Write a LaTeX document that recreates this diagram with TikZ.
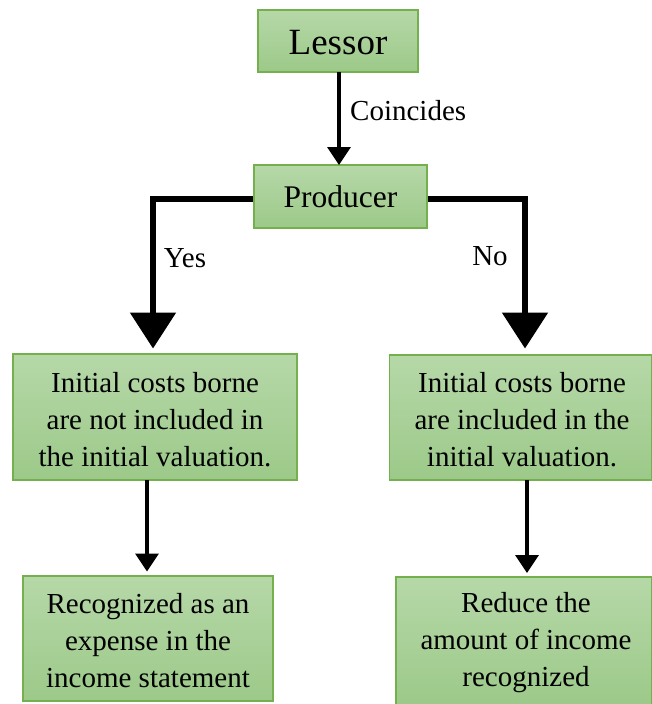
\documentclass[tikz,border=0pt]{standalone}
\usepackage{fontspec}
\setmainfont{Liberation Serif}
\usetikzlibrary{arrows.meta,calc}
\definecolor{boxtop}{RGB}{182,216,168}
\definecolor{boxbot}{RGB}{156,201,137}
\definecolor{boxline}{RGB}{116,176,78}
\tikzset{
  gbox/.style={draw=boxline, line width=1.2pt, top color=boxtop, bottom color=boxbot,
    align=center, inner sep=0pt, anchor=center},
  bodytext/.style={font=\fontsize{29}{37}\selectfont, align=center, inner sep=0pt},
  thinarrow/.style={line width=3.6pt, -{Triangle[width=23pt,length=18pt]}},
  bigarrow/.style={line width=5.5pt, -{Triangle[width=45pt,length=36pt]}},
  lbl/.style={font=\fontsize{29}{35}\selectfont, inner sep=0pt}
}
\begin{document}
\begin{tikzpicture}[x=1pt,y=-1pt]
\useasboundingbox (0,0) rectangle (652,704);
\node[gbox, minimum width=160pt, minimum height=62pt] (lessor) at (338,41) {};
\node[font=\fontsize{37}{40}\selectfont, inner sep=0pt] (lessort) at (338,43) {Lessor};
\node[gbox, minimum width=173pt, minimum height=63pt] (prod) at (340.5,196.5) {};
\node[font=\fontsize{31.5}{36}\selectfont, inner sep=0pt] (prodt) at (340.5,197) {Producer};
\node[gbox, minimum width=284pt, minimum height=126pt] (l2) at (155,417) {};
\node[bodytext] (l2t) at (155,420) {Initial costs borne\\are not included in\\the initial valuation.};
\node[gbox, minimum width=262pt, minimum height=125pt] (r2) at (520.5,417.5) {};
\node[bodytext] (r2t) at (522,420) {Initial costs borne\\are included in the\\initial valuation.};
\node[gbox, minimum width=250pt, minimum height=125pt] (l3) at (148,638.5) {};
\node[bodytext] (l3t) at (148,641) {Recognized as an\\expense in the\\income statement};
\node[gbox, minimum width=256pt, minimum height=129pt] (r3) at (524,641.5) {};
\node[bodytext] (r3t) at (526,643) {Reduce the\\amount of income\\recognized};

\coordinate (lesBot) at (339,72);
\coordinate (prodTop) at (339,165);
\draw[thinarrow] (lesBot) -- (prodTop);
\node[lbl, anchor=west] (coin) at (350,111) {Coincides};

\coordinate (lcorner) at (153,199);
\coordinate (ltip) at (153,348.5);
\coordinate (rcorner) at (525,199);
\coordinate (rtip) at (525,348.5);
\draw[bigarrow] (prod.west |- lcorner) -- (lcorner) -- (ltip);
\draw[bigarrow] (prod.east |- rcorner) -- (rcorner) -- (rtip);
\node[lbl] (yes) at (185,258) {Yes};
\node[lbl] (no) at (490,256) {No};

\coordinate (l2b) at (147,480);
\coordinate (l3end) at (147,571.5);
\coordinate (r2b) at (527,480);
\coordinate (r3end) at (527,573);
\draw[thinarrow] (l2b) -- (l3end);
\draw[thinarrow] (r2b) -- (r3end);
\end{tikzpicture}
\end{document}
